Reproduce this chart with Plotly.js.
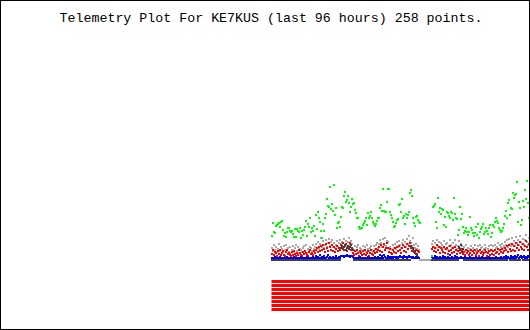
<!DOCTYPE html>
<html>
<head>
<meta charset="utf-8">
<script src="https://cdn.plot.ly/plotly-3.0.1.min.js"></script>
<style>html,body{margin:0;padding:0;background:#fff;}#chart{width:530px;height:330px;}</style>
</head>
<body>
<div id="chart"></div>
<script>
// Telemetry channels, one sample per entry (258 samples), raw values
const titleText = "Telemetry Plot For KE7KUS (last 96 hours) 258 points.";

const channelGreen = [
26,39,30,29,36,37,38,39,35,40,
41,32,26,29,25,30,34,34,31,30,
31,28,25,33,25,33,31,30,34,24,
31,27,32,35,41,26,38,35,44,30,
34,31,36,26,47,33,50,44,40,31,
24,38,31,44,48,63,56,55,75,53,
58,51,77,47,54,34,39,40,35,45,
55,54,66,70,60,62,66,59,50,55,
63,58,59,52,49,44,44,35,33,34,
34,37,39,41,44,37,49,44,46,50,
44,40,38,36,38,41,44,44,54,57,
51,73,51,50,50,60,73,73,50,47,
44,40,35,36,39,42,43,57,58,50,
63,44,46,38,48,44,47,50,69,72,
66,44,39,36,45,46,42,40,39,null,
null,null,null,null,null,null,null,null,null,null,
6,55,56,58,40,34,64,50,54,48,
53,52,37,45,35,50,49,46,44,50,
49,42,64,48,44,43,27,32,55,43,
48,35,29,31,34,30,27,30,45,34,
32,29,26,29,35,27,38,24,30,33,
35,38,28,30,34,31,28,34,37,25,
29,37,35,40,44,41,39,34,32,30,
31,34,38,46,51,44,59,62,47,54,
53,69,64,67,68,80,40,60,54,37,
42,61,55,72,63,81,59,44];

const channelRed = [
8,12,7,10,9,6,11,8,12,7,
9,11,7,6,10,12,8,9,7,6,
10,7,11,8,6,9,7,12,9,7,
6,10,8,11,9,7,6,10,12,8,
9,7,11,9,12,14,10,15,11,16,
12,17,13,10,18,14,11,19,15,12,
17,11,15,10,13,16,11,14,12,17,
14,19,12,16,18,11,15,13,19,12,
13,9,7,11,8,12,9,6,11,9,
7,11,8,12,7,9,11,6,9,12,
8,7,11,9,13,10,12,15,11,17,
10,15,18,12,14,19,14,10,13,9,
8,12,10,14,9,15,11,16,12,9,
14,17,11,15,10,18,13,16,19,14,
11,14,10,9,12,8,11,10,null,null,
null,null,null,null,null,null,null,null,null,null,
13,15,11,14,10,17,12,15,9,14,
12,10,15,9,13,14,8,11,16,12,
9,14,10,15,12,8,11,14,9,13,
11,8,10,7,12,9,11,7,9,12,
7,11,9,12,7,9,11,6,12,9,
10,7,9,12,10,6,9,11,7,12,
8,11,7,12,9,10,13,8,12,10,
13,9,11,14,12,16,10,17,13,11,
18,12,16,11,19,14,17,12,20,15,
13,18,12,16,21,15,12,18];

const channelGray = [
14,11,17,12,15,10,13,18,11,15,
13,10,16,12,17,11,14,10,15,9,
12,16,10,14,17,11,15,9,13,12,
10,14,16,11,17,9,13,12,15,14,
11,17,13,15,18,14,20,13,18,24,
15,21,14,17,22,15,19,23,16,20,
22,15,19,14,17,21,15,19,22,18,
20,15,23,17,21,16,20,24,17,21,
18,13,12,16,11,15,17,10,14,13,
11,16,12,15,10,17,13,11,14,16,
12,10,16,13,17,19,14,18,22,19,
15,23,17,24,16,21,20,14,15,13,
12,17,14,18,13,20,15,21,17,14,
19,22,16,20,15,23,18,26,21,19,
16,24,17,14,18,13,16,12,2,2,
2,2,2,2,2,2,2,2,2,2,
18,21,15,19,14,22,16,20,15,19,
17,14,21,13,18,19,12,16,22,17,
14,19,15,22,17,13,16,21,14,18,
16,12,15,11,17,12,14,11,13,16,
11,14,12,17,11,13,16,10,17,14,
15,11,13,17,14,10,13,16,11,17,
12,16,11,17,14,15,19,12,17,15,
18,14,16,20,17,22,15,23,18,16,
24,17,21,16,25,19,22,17,26,20,
18,23,17,22,27,20,17,24];

const channelBlue = [
4,4,4,5,4,4,4,4,5,4,
4,4,4,4,4,5,4,4,4,4,
4,4,5,4,4,4,4,4,4,5,
4,4,4,4,4,5,4,4,4,4,
4,5,4,4,6,4,5,4,7,4,
5,4,6,4,4,5,7,4,5,4,
4,5,4,4,6,4,4,5,4,6,
6,6,5,6,6,7,6,6,5,6,
6,5,4,4,4,4,4,4,5,4,
4,4,4,4,4,4,5,4,4,4,
4,4,4,5,4,4,5,4,7,4,
6,4,7,5,4,4,6,4,5,4,
5,4,5,5,4,5,4,5,6,5,
5,4,6,5,5,4,5,6,5,5,
4,5,4,4,5,4,4,4,null,null,
null,null,null,null,null,null,null,null,null,null,
5,4,4,6,4,5,4,4,5,4,
4,6,4,5,4,4,5,4,7,4,
5,4,4,6,4,5,4,4,4,5,
4,4,4,5,4,4,4,4,5,4,
4,4,4,4,5,4,4,4,4,4,
5,4,4,4,4,4,4,5,4,4,
4,4,4,4,5,4,4,4,4,5,
4,4,5,4,6,4,5,4,4,6,
4,5,4,6,4,5,7,4,5,6,
4,5,6,4,5,4,6,5];

const channelDark = [
2,2,2,2,2,2,2,2,2,2,
2,2,2,2,2,2,2,2,2,2,
2,2,2,2,2,2,2,2,2,2,
2,2,2,2,2,2,2,2,2,2,
2,2,2,2,2,2,2,2,2,2,
2,2,2,2,2,2,2,2,2,2,
2,2,2,2,2,2,2,2,2,14,
16,13,15,17,12,14,16,13,15,17,
14,12,2,2,2,2,2,2,2,2,
2,2,2,2,2,2,2,2,2,2,
2,2,2,2,2,2,2,2,2,2,
2,2,2,2,2,2,2,2,2,2,
2,2,2,2,2,2,2,2,2,2,
2,2,2,2,2,2,2,2,2,16,
14,13,11,10,8,7,5,4,null,null,
null,null,null,null,null,null,null,null,null,null,
2,2,2,2,2,2,2,2,2,2,
2,2,2,2,2,2,2,2,2,2,
2,2,2,2,2,2,2,15,12,17,
10,13,2,2,2,2,2,2,2,2,
2,2,2,2,2,2,2,2,2,2,
2,2,2,2,2,2,2,2,2,2,
2,2,2,2,2,2,2,2,2,2,
2,2,2,2,2,2,null,null,2,2,
2,2,2,2,null,2,2,2,2,null,
null,2,2,2,2,2,2,2];

// Digital bits B1..B8 state over the window
const bitLabels = ["B1","B2","B3","B4","B5","B6","B7","B8"];
const bitValues = [1,1,1,1,1,1,1,1];

function pts(y, color) {
  return {type: 'scatter', mode: 'markers', y: y, xaxis: 'x', yaxis: 'y',
    marker: {symbol: 'square', size: 2, color: color, line: {width: 0}},
    hoverinfo: 'skip', showlegend: false, cliponaxis: true};
}

const traces = [
  pts(channelGray, '#a8a8a8'),
  pts(channelRed, '#ff0000'),
  pts(channelDark, '#404040'),
  pts(channelBlue, '#0000ff'),
  pts(channelGreen, '#00ff00')
];

const lastIdx = channelGreen.length - 1;
bitLabels.forEach(function(lbl, b) {
  if (bitValues[b]) {
    traces.push({type: 'scatter', mode: 'lines', x: [-0.5, lastIdx + 0.5], y: [b, b],
      xaxis: 'x', yaxis: 'y2', line: {color: '#ff0000', width: 3},
      hoverinfo: 'skip', showlegend: false, name: lbl});
  }
});

const layout = {
  width: 530, height: 330,
  margin: {l: 1, r: 1, t: 1, b: 1, pad: 0},
  paper_bgcolor: '#000000',
  plot_bgcolor: '#ffffff',
  showlegend: false,
  title: {text: titleText, x: 271/530, xanchor: 'center', xref: 'container',
    y: 1 - 17/330, yanchor: 'middle', yref: 'container',
    font: {family: 'Liberation Mono', size: 13.3, color: '#000000'}},
  xaxis: {range: [-271, 257], visible: false, showgrid: false, zeroline: false, fixedrange: true},
  yaxis: {range: [-67, 261], visible: false, showgrid: false, zeroline: false, fixedrange: true, domain: [0, 1]},
  yaxis2: {range: [7.5, -0.5], domain: [17.5/328, 49.5/328], visible: false, showgrid: false, zeroline: false, fixedrange: true, anchor: 'x'}
};

Plotly.newPlot('chart', traces, layout, {displayModeBar: false, staticPlot: true});
</script>
</body>
</html>
